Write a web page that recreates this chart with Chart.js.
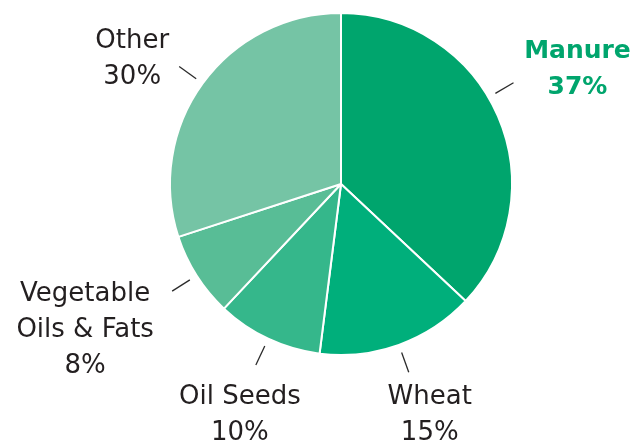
<!DOCTYPE html>
<html>
<head>
<meta charset="utf-8">
<title>Sources</title>
<script src="https://cdn.jsdelivr.net/npm/chart.js@4/dist/chart.umd.min.js"></script>
<style>
  html, body { margin: 0; padding: 0; background: #fff; }
  canvas { display: block; }
</style>
</head>
<body>
<canvas id="pie-chart" width="636" height="444"></canvas>
<script>
// Share of each source, clockwise from 12 o'clock
const categories = ['Manure', 'Wheat', 'Oil Seeds', ['Vegetable', 'Oils & Fats'], 'Other'];
const shares = [37, 15, 10, 8, 30];
const sliceColors = ['#00a56d', '#00af7b', '#35b78b', '#58bd96', '#75c4a5'];

const textColor = '#231f20';
const lineColor = '#2b2b2b';
const lineHeight = 36;

// label block offsets (px) from the outer end of each leader line, plus a small angle nudge
const labelPlacement = [
  { dx: 64, dy: -16, nudge: -7 },
  { dx: 21, dy: 41, nudge: 0 },
  { dx: -16, dy: 48, nudge: 0 },
  { dx: -87, dy: 37, nudge: 0 },
  { dx: -47, dy: -9, nudge: 0 }
];

const outsideLabels = {
  id: 'outsideLabels',
  afterDatasetsDraw(chart) {
    const ctx = chart.ctx;
    const arcs = chart.getDatasetMeta(0).data;
    ctx.save();
    arcs.forEach((arc, i) => {
      const { x, y, startAngle, endAngle, outerRadius } = arc.getProps(['x', 'y', 'startAngle', 'endAngle', 'outerRadius'], true);
      const place = labelPlacement[i];
      const a = (startAngle + endAngle) / 2 + place.nudge * Math.PI / 180;
      const r1 = outerRadius + 8;
      const r2 = outerRadius + 29;
      const x2 = x + Math.cos(a) * r2;
      const y2 = y + Math.sin(a) * r2;

      ctx.beginPath();
      ctx.moveTo(x + Math.cos(a) * r1, y + Math.sin(a) * r1);
      ctx.lineTo(x2, y2);
      ctx.strokeStyle = lineColor;
      ctx.lineWidth = 1.3;
      ctx.stroke();

      const name = categories[i];
      const lines = (Array.isArray(name) ? name : [name]).concat(shares[i] + '%');
      const highlight = i === 0;
      ctx.font = highlight ? 'bold 25px "DejaVu Sans"' : '26px "DejaVu Sans"';
      ctx.fillStyle = highlight ? sliceColors[0] : textColor;
      ctx.textAlign = 'center';
      ctx.textBaseline = 'alphabetic';
      const cx = x2 + place.dx;
      const cy = y2 + place.dy;
      lines.forEach((t, k) => {
        ctx.fillText(t, cx, cy + (k - (lines.length - 1) / 2) * lineHeight + 9);
      });
    });
    ctx.restore();
  }
};

new Chart(document.getElementById('pie-chart'), {
  type: 'pie',
  data: {
    labels: categories,
    datasets: [{
      data: shares,
      backgroundColor: sliceColors,
      borderColor: '#ffffff',
      borderWidth: 2
    }]
  },
  options: {
    responsive: false,
    animation: false,
    layout: {
      padding: { top: 12, bottom: 88, left: 169, right: 123 }
    },
    plugins: {
      legend: { display: false },
      tooltip: { enabled: false }
    }
  },
  plugins: [outsideLabels]
});
</script>
</body>
</html>
